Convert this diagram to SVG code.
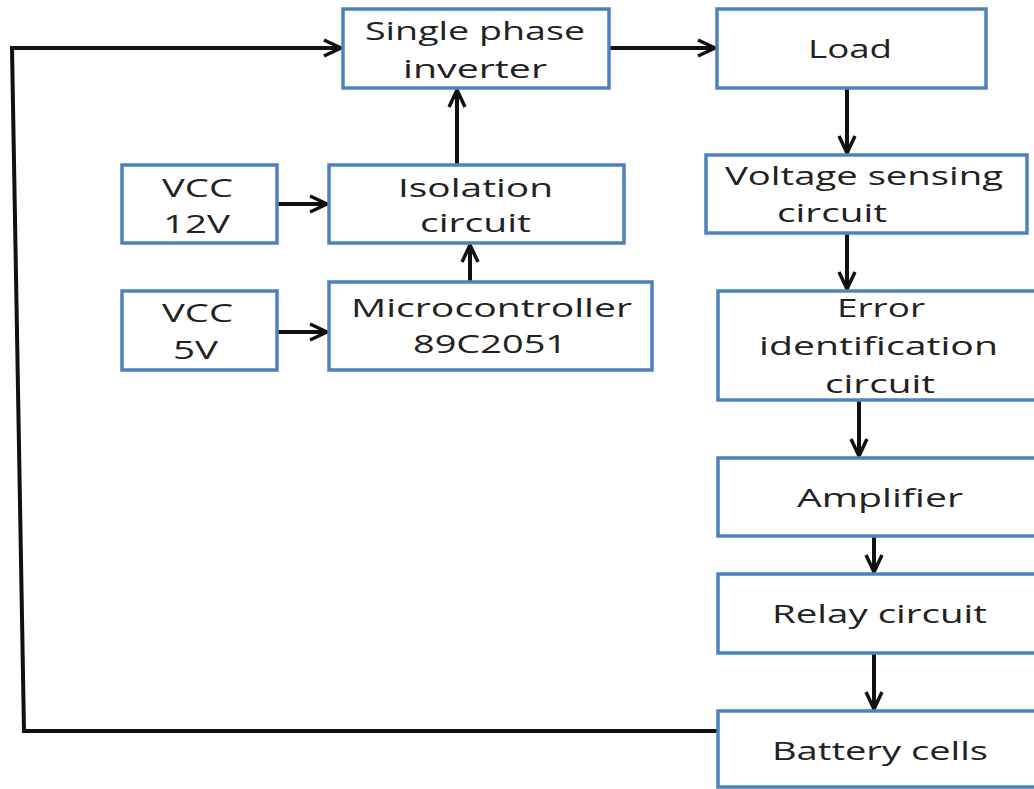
<svg xmlns="http://www.w3.org/2000/svg" width="1034" height="789" viewBox="0 0 1034 789">
<style>
.box{fill:#ffffff;stroke:#4f81bd;stroke-width:3.5}
.t{font-family:"Open Sans","Noto Sans","Liberation Sans",sans-serif;font-size:26px;fill:#222222}
.c{fill:none;stroke:#111111;stroke-width:4}
</style>
<defs>
<marker id="ah" markerUnits="userSpaceOnUse" markerWidth="24" markerHeight="20" refX="21" refY="10" orient="auto" viewBox="0 0 24 20">
<path d="M4,2 L21,10 L4,18" fill="none" stroke="#111111" stroke-width="3.5" stroke-linejoin="miter"/>
</marker>
</defs>
<rect width="1034" height="789" fill="#ffffff"/>
<g id="connectors">
<polyline class="c" points="718,731 24,731 12,48 341,48" marker-end="url(#ah)"/>
<line class="c" x1="609" y1="48" x2="715" y2="48" marker-end="url(#ah)"/>
<line class="c" x1="457" y1="165" x2="457" y2="90" marker-end="url(#ah)"/>
<line class="c" x1="470" y1="282" x2="470" y2="245" marker-end="url(#ah)"/>
<line class="c" x1="277" y1="204" x2="327" y2="204" marker-end="url(#ah)"/>
<line class="c" x1="277" y1="332" x2="327" y2="332" marker-end="url(#ah)"/>
<line class="c" x1="847" y1="88" x2="847" y2="153" marker-end="url(#ah)"/>
<line class="c" x1="847" y1="233" x2="847" y2="289" marker-end="url(#ah)"/>
<line class="c" x1="859" y1="400" x2="859" y2="456" marker-end="url(#ah)"/>
<line class="c" x1="874" y1="536" x2="874" y2="572" marker-end="url(#ah)"/>
<line class="c" x1="874" y1="653" x2="874" y2="709" marker-end="url(#ah)"/>
</g>
<g id="inverter">
<rect class="box" x="343" y="9" width="266" height="79"/>
<text class="t" x="365" y="40" textLength="220" lengthAdjust="spacingAndGlyphs">Single phase</text>
<text class="t" x="403" y="78" textLength="144" lengthAdjust="spacingAndGlyphs">inverter</text>
</g>
<g id="load">
<rect class="box" x="717" y="9" width="269" height="79"/>
<text class="t" x="808" y="58" textLength="84" lengthAdjust="spacingAndGlyphs">Load</text>
</g>
<g id="vcc12">
<rect class="box" x="122" y="165" width="155" height="78"/>
<text class="t" x="162" y="197" textLength="71" lengthAdjust="spacingAndGlyphs">VCC</text>
<text class="t" x="163" y="233" textLength="67" lengthAdjust="spacingAndGlyphs">12V</text>
</g>
<g id="isolation">
<rect class="box" x="329" y="165" width="295" height="78"/>
<text class="t" x="398" y="197" textLength="155" lengthAdjust="spacingAndGlyphs">Isolation</text>
<text class="t" x="420" y="232" textLength="111" lengthAdjust="spacingAndGlyphs">circuit</text>
</g>
<g id="vcc5">
<rect class="box" x="122" y="291" width="155" height="79"/>
<text class="t" x="162" y="322" textLength="71" lengthAdjust="spacingAndGlyphs">VCC</text>
<text class="t" x="173" y="359" textLength="45" lengthAdjust="spacingAndGlyphs">5V</text>
</g>
<g id="micro">
<rect class="box" x="329" y="282" width="323" height="88"/>
<text class="t" x="351" y="317" textLength="281" lengthAdjust="spacingAndGlyphs">Microcontroller</text>
<text class="t" x="413" y="353" textLength="154" lengthAdjust="spacingAndGlyphs">89C2051</text>
</g>
<g id="voltage">
<rect class="box" x="706" y="155" width="321" height="78"/>
<text class="t" x="725" y="185" textLength="278" lengthAdjust="spacingAndGlyphs">Voltage sensing</text>
<text class="t" x="777" y="222" textLength="110" lengthAdjust="spacingAndGlyphs">circuit</text>
</g>
<g id="error">
<rect class="box" x="718" y="291" width="330" height="109"/>
<text class="t" x="837" y="317" textLength="88" lengthAdjust="spacingAndGlyphs">Error</text>
<text class="t" x="759" y="355" textLength="239" lengthAdjust="spacingAndGlyphs">identification</text>
<text class="t" x="825" y="393" textLength="110" lengthAdjust="spacingAndGlyphs">circuit</text>
</g>
<g id="amplifier">
<rect class="box" x="718" y="458" width="330" height="78"/>
<text class="t" x="797" y="507" textLength="166" lengthAdjust="spacingAndGlyphs">Amplifier</text>
</g>
<g id="relay">
<rect class="box" x="718" y="574" width="330" height="79"/>
<text class="t" x="772" y="623" textLength="215" lengthAdjust="spacingAndGlyphs">Relay circuit</text>
</g>
<g id="battery">
<rect class="box" x="718" y="711" width="330" height="76"/>
<text class="t" x="772" y="760" textLength="216" lengthAdjust="spacingAndGlyphs">Battery cells</text>
</g>
</svg>
